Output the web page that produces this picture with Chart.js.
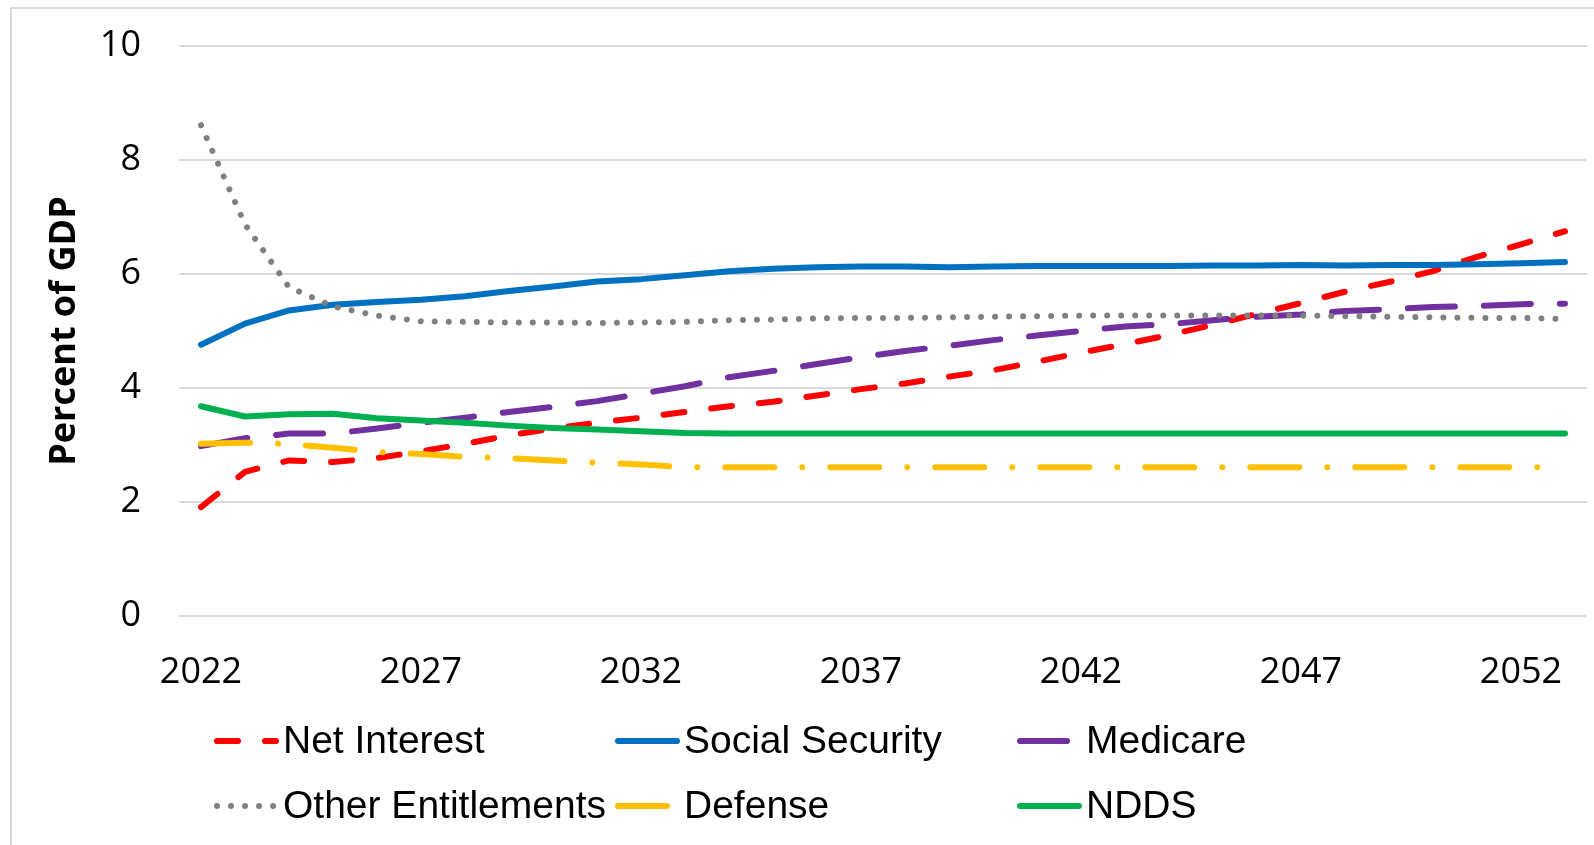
<!DOCTYPE html>
<html>
<head>
  <meta charset="UTF-8">
  <title>Percent of GDP</title>
  <script src="https://cdn.jsdelivr.net/npm/chart.js"></script>
  <style>
    html, body { margin: 0; padding: 0; background: #fff; overflow: hidden; }
    #marco { position: absolute; left: 10px; top: 7px; width: 1700px; height: 900px;
             border-left: 2px solid #d9d9d9; border-top: 2px solid #d9d9d9; }
    #grafico { position: absolute; left: 0; top: 0; }
  </style>
</head>
<body>
  <div id="marco"></div>
  <canvas id="grafico" width="1594" height="845"></canvas>

  <script>
    // años (categorías)
    const anios = ['2022','2023','2024','2025','2026','2027','2028','2029','2030','2031',
                   '2032','2033','2034','2035','2036','2037','2038','2039','2040','2041',
                   '2042','2043','2044','2045','2046','2047','2048','2049','2050','2051',
                   '2052','2053'];

    // series, porcentaje del PIB
    const netInterest = [1.91, 2.53, 2.73, 2.70, 2.77, 2.89, 3.02, 3.17, 3.29, 3.39,
                         3.48, 3.58, 3.68, 3.76, 3.87, 3.98, 4.08, 4.20, 4.31, 4.46,
                         4.62, 4.77, 4.93, 5.11, 5.30, 5.49, 5.69, 5.86, 6.05, 6.30,
                         6.52, 6.75];
    const socialSecurity = [4.76, 5.13, 5.36, 5.46, 5.51, 5.55, 5.61, 5.70, 5.78, 5.87,
                            5.91, 5.98, 6.05, 6.09, 6.12, 6.13, 6.13, 6.12, 6.13, 6.14,
                            6.14, 6.14, 6.14, 6.15, 6.15, 6.16, 6.15, 6.16, 6.16, 6.17,
                            6.19, 6.21];
    const medicare = [2.98, 3.12, 3.20, 3.20, 3.29, 3.39, 3.48, 3.58, 3.67, 3.77,
                      3.90, 4.03, 4.19, 4.30, 4.42, 4.54, 4.65, 4.74, 4.84, 4.92,
                      5.00, 5.08, 5.12, 5.19, 5.25, 5.29, 5.35, 5.38, 5.42, 5.44,
                      5.47, 5.48];
    const otherEntitlements = [8.61, 6.87, 5.77, 5.43, 5.27, 5.17, 5.16, 5.15, 5.15, 5.14,
                               5.15, 5.16, 5.19, 5.20, 5.22, 5.23, 5.23, 5.24, 5.25, 5.26,
                               5.27, 5.27, 5.27, 5.27, 5.27, 5.27, 5.26, 5.25, 5.24, 5.23,
                               5.23, 5.21];
    const defense = [3.02, 3.04, 3.02, 2.95, 2.88, 2.84, 2.79, 2.77, 2.73, 2.69,
                     2.66, 2.61, 2.61, 2.61, 2.61, 2.61, 2.61, 2.61, 2.61, 2.61,
                     2.61, 2.61, 2.61, 2.61, 2.61, 2.61, 2.61, 2.61, 2.61, 2.61,
                     2.61, 2.61];
    const ndds = [3.68, 3.50, 3.54, 3.55, 3.47, 3.43, 3.39, 3.34, 3.30, 3.27,
                  3.24, 3.21, 3.20, 3.20, 3.20, 3.20, 3.20, 3.20, 3.20, 3.20,
                  3.20, 3.20, 3.20, 3.20, 3.20, 3.20, 3.20, 3.20, 3.20, 3.20,
                  3.20, 3.20];

    const fuenteEjes = '"Open Sans", "Noto Sans", sans-serif';
    const fuenteLeyenda = '"Liberation Sans", Arial, sans-serif';

    // leyenda en rejilla 3 x 2 como la de Excel
    const leyendaRejilla = {
      id: 'leyendaRejilla',
      afterDraw(chart) {
        const ctx = chart.ctx;
        const columnas = [214, 615, 1017];
        const filas = [741, 806];
        chart.data.datasets.forEach((ds, i) => {
          const x = columnas[i % 3];
          const y = filas[Math.floor(i / 3)];
          ctx.save();
          ctx.strokeStyle = ds.borderColor;
          ctx.lineWidth = ds.borderWidth;
          ctx.lineCap = 'round';
          ctx.setLineDash(ds.borderDash || []);
          ctx.beginPath();
          ctx.moveTo(x + 3, y);
          ctx.lineTo(x + 62, y);
          ctx.stroke();
          ctx.setLineDash([]);
          ctx.fillStyle = '#000';
          ctx.font = '39px ' + fuenteLeyenda;
          ctx.textBaseline = 'middle';
          ctx.fillText(ds.label, x + 69, y + 1);
          ctx.restore();
        });
      }
    };

    const series = [
      { label: 'Net Interest', data: netInterest, borderColor: '#FF0000', borderWidth: 6, borderDash: [21, 27] },
      { label: 'Social Security', data: socialSecurity, borderColor: '#0070C0', borderWidth: 6, borderDash: [] },
      { label: 'Medicare', data: medicare, borderColor: '#7030A0', borderWidth: 6, borderDash: [47, 29] },
      { label: 'Other Entitlements', data: otherEntitlements, borderColor: '#808080', borderWidth: 6, borderDash: [0.01, 14] },
      { label: 'Defense', data: defense, borderColor: '#FFC000', borderWidth: 6, borderDash: [49, 28, 0.01, 28] },
      { label: 'NDDS', data: ndds, borderColor: '#00B050', borderWidth: 6, borderDash: [] }
    ];

    new Chart(document.getElementById('grafico').getContext('2d'), {
      type: 'line',
      data: {
        labels: anios,
        datasets: series.map((s, i) => ({
          ...s,
          backgroundColor: s.borderColor,
          fill: false,
          tension: 0,
          pointRadius: 0,
          borderCapStyle: 'round',
          borderJoinStyle: 'round',
          order: series.length - 1 - i
        }))
      },
      options: {
        responsive: false,
        animation: false,
        layout: { padding: { top: 46, right: 7, left: 0, bottom: 0 } },
        plugins: {
          legend: { display: false },
          tooltip: { enabled: false }
        },
        scales: {
          x: {
            type: 'category',
            offset: true,
            grid: { display: false },
            border: { display: false },
            ticks: {
              autoSkip: false,
              maxRotation: 0,
              padding: 27,
              color: '#000',
              font: { family: fuenteEjes, size: 36 },
              callback: function (v, i) { return i % 5 === 0 ? this.getLabelForValue(v) : ''; }
            },
            afterFit: s => { s.height = 229; }
          },
          y: {
            min: 0,
            max: 10,
            ticks: { stepSize: 2, padding: 38, color: '#000', font: { family: fuenteEjes, size: 36 } },
            grid: { color: '#d9d9d9', lineWidth: 2, drawTicks: false },
            border: { display: false },
            title: {
              display: true,
              text: 'Percent of GDP',
              color: '#000',
              font: { family: fuenteEjes, size: 36, weight: 'bold' },
              padding: { top: 43, bottom: 0 }
            },
            // ancho fijo del eje y sin relleno extra arriba/abajo
            afterFit: s => { s.width = 179; s.paddingTop = 0; s.paddingBottom = 0; }
          }
        }
      },
      plugins: [leyendaRejilla]
    });
  </script>
</body>
</html>
